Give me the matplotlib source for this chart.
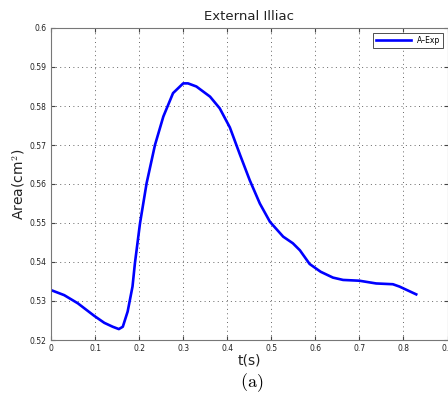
import matplotlib
matplotlib.use("Agg")
import matplotlib.pyplot as plt

# Data
t_values = [0.0, 0.030, 0.061, 0.098, 0.121, 0.140, 0.154, 0.163, 0.174, 0.185,
            0.1905, 0.202, 0.217, 0.236, 0.255, 0.277, 0.300, 0.311, 0.330, 0.361,
            0.383, 0.406, 0.429, 0.451, 0.474, 0.497, 0.527, 0.549, 0.565, 0.587,
            0.612, 0.640, 0.663, 0.700, 0.738, 0.776, 0.791, 0.810, 0.829]
area_values = [0.5328, 0.5315, 0.5294, 0.5262, 0.5244, 0.5234, 0.5228, 0.5234, 0.5273, 0.5337,
               0.5397, 0.5499, 0.5602, 0.5700, 0.5773, 0.5833, 0.5858, 0.5858, 0.5850, 0.5824,
               0.5794, 0.5745, 0.5675, 0.5610, 0.5550, 0.5503, 0.5465, 0.5448, 0.5430, 0.5395,
               0.5375, 0.5360, 0.5354, 0.5352, 0.5345, 0.5343, 0.5337, 0.5327, 0.5317]

x_ticks = [0, 0.1, 0.2, 0.3, 0.4, 0.5, 0.6, 0.7, 0.8, 0.9]
x_tick_labels = ["0", "0.1", "0.2", "0.3", "0.4", "0.5", "0.6", "0.7", "0.8", "0.9"]
y_ticks = [0.52, 0.53, 0.54, 0.55, 0.56, 0.57, 0.58, 0.59, 0.6]
y_tick_labels = ["0.52", "0.53", "0.54", "0.55", "0.56", "0.57", "0.58", "0.59", "0.6"]

plt.rcParams["mathtext.fontset"] = "cm"

fig = plt.figure(figsize=(4.48, 4.09), dpi=100)
ax = fig.add_axes([51 / 448, 69 / 409, 396.5 / 448, 312 / 409])

ax.plot(t_values, area_values, color="#0000ff", linewidth=1.9, label="A\u2013Exp",
        solid_joinstyle="round")

ax.set_xlim(0, 0.9)
ax.set_ylim(0.52, 0.6)
ax.set_xticks(x_ticks)
ax.set_xticklabels(x_tick_labels)
ax.set_yticks(y_ticks)
ax.set_yticklabels(y_tick_labels)
ax.tick_params(direction="in", top=True, right=True, labelsize=5.5, length=3,
               color="#444444", labelcolor="#222222", pad=3)
ax.grid(True, linestyle=(0, (1, 3.5)), color="#666666", linewidth=0.7)
for spine in ax.spines.values():
    spine.set_color("#777777")

ax.set_title("External Illiac", fontsize=9.5, color="#222222", pad=6)
ax.set_xlabel("t(s)", fontsize=10, color="#222222", labelpad=0)
ax.set_ylabel("Area(cm$^2$)", fontsize=10, color="#222222", labelpad=2)

leg = ax.legend(loc="upper right", fontsize=5.5, handlelength=4.5, fancybox=False,
                borderpad=0.4, framealpha=1, edgecolor="#333333",
                borderaxespad=0.6)
leg.get_frame().set_linewidth(0.6)

fig.text(252 / 448, 1 - 383 / 409, r"$\mathrm{(a)}$", fontsize=13, ha="center", va="center")

fig.savefig("out.png", dpi=100)
